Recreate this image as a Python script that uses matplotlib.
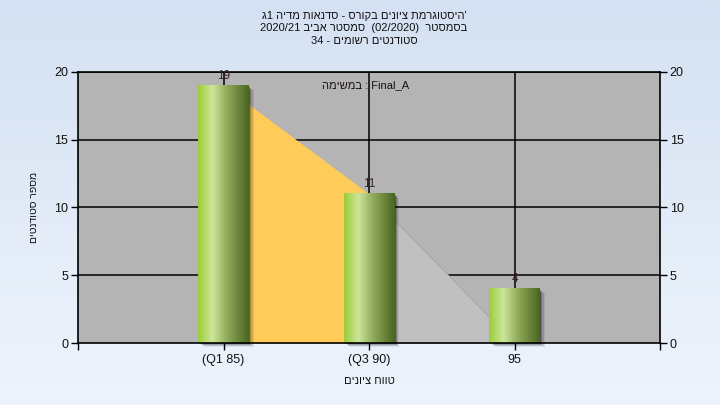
import numpy as np
import matplotlib
matplotlib.use("Agg")
import matplotlib.pyplot as plt
from matplotlib.colors import LinearSegmentedColormap
from matplotlib.patches import Rectangle
import matplotlib.transforms as mtransforms

plt.rcParams['font.family'] = ['Liberation Sans', 'DejaVu Sans']

# ---- data ----
categories = ["(Q1 85)", "(Q3 90)", "95"]
counts = [19, 11, 4]
area_values = [19, 11, 0]
yticks = [0, 5, 10, 15, 20]

title_lines = ["'היסטוגרמת ציונים בקורס - סדנאות מדיה 1ג",
               "בסמסטר  (02/2020)  סמסטר אביב 2020/21",
               "סטודנטים רשומים - 34"]
xlabel = "טווח ציונים"
ylabel = "מספר סטודנטים"
inner_title = "Final_A : במשימה"

MIRROR = {'(': ')', ')': '('}


def is_ltr(c):
    return c.isascii() and (c.isalnum() or c == '_')


def visual(s):
    """Very small bidi: RTL base paragraph -> visual order (left to right)."""
    runs = []
    i = 0
    n = len(s)
    while i < n:
        c = s[i]
        if is_ltr(c):
            j = i
            while j < n and (is_ltr(s[j]) or (s[j] in '/._' and j + 1 < n and is_ltr(s[j + 1]))):
                j += 1
            runs.append(('L', s[i:j]))
            i = j
        else:
            j = i
            while j < n and not is_ltr(s[j]):
                j += 1
            runs.append(('R', s[i:j]))
            i = j
    out = []
    for kind, txt in reversed(runs):
        if kind == 'L':
            out.append(txt)
        else:
            out.append(''.join(MIRROR.get(ch, ch) for ch in reversed(txt)))
    return ''.join(out)


W, H = 720, 405
fig = plt.figure(figsize=(7.2, 4.05), dpi=100)

# background gradient
bg = fig.add_axes([0, 0, 1, 1], zorder=-10)
grad = np.linspace(0, 1, 256).reshape(-1, 1)
bgcmap = LinearSegmentedColormap.from_list('bg', ['#d4e1f2', '#eef4fc'])
bg.imshow(grad, aspect='auto', cmap=bgcmap, extent=[0, 1, 0, 1], origin='upper')
bg.axis('off')

L, R, T, B = 78, 660, 72, 343
ax = fig.add_axes([L / W, 1 - B / H, (R - L) / W, (B - T) / H])
ax.set_facecolor('#b4b4b4')
x = np.arange(len(categories))

# grid
for yv in yticks[1:]:
    ax.axhline(yv, color='black', lw=1.1, zorder=1)
for xv in x:
    ax.axvline(xv, color='black', lw=1.1, zorder=1)

# area series
ax.fill_between(x[0:2], area_values[0:2], 0, color='#ffcc5a', lw=0, zorder=2)
ax.fill_between(x[1:3], area_values[1:3], 0, color='#c0c0c0', lw=0, zorder=2)
ax.plot(x[1:3], area_values[1:3], color='#a9a9a9', lw=0.8, zorder=2)

# bars
bw = 0.345
barcmap = LinearSegmentedColormap.from_list(
    'bar', [(0, '#9acd38'), (0.28, '#cde59a'), (0.55, '#94ae5e'), (1.0, '#4a651f')])
hgrad = np.linspace(0, 1, 256).reshape(1, -1)
for xi, v in zip(x, counts):
    # shadow
    for k, a in enumerate([0.30, 0.20, 0.12, 0.07]):
        off = mtransforms.offset_copy(ax.transData, fig=fig, x=1.5 + k * 1.3, y=-(1 + k * 1.0),
                                      units='dots')
        ax.add_patch(Rectangle((xi - bw / 2, 0), bw, v, transform=off, color='black',
                               alpha=a, lw=0, zorder=3, clip_on=False))
    ax.imshow(hgrad, aspect='auto', cmap=barcmap,
              extent=[xi - bw / 2, xi + bw / 2, 0, v], zorder=4, interpolation='bilinear')
    ax.annotate(str(v), (xi, v), xytext=(0, 2.5), textcoords='offset points',
                ha='center', va='bottom', fontsize=8.5, color='#3a2222', zorder=6)
ax.set_xlim(-1, 3)
ax.set_ylim(0, 20)

# ticks
ax.set_yticks(yticks)
ax.set_xticks([-1] + list(x) + [3])
ax.set_xticklabels([''] + categories + [''])
ax.tick_params(axis='both', labelsize=9, length=5, width=1, color='black', labelcolor='#111111',
               direction='out', pad=2)
ax.tick_params(axis='x', pad=3)
ax.tick_params(axis='y', right=True, labelright=True)
for sp in ax.spines.values():
    sp.set_color('black')
    sp.set_linewidth(1.2)
    sp.set_zorder(5)

fig.text(366 / W, 1 - 85 / H, visual(inner_title), ha='center', va='center',
         fontsize=8, color='#1a1010', zorder=7)

fig.text(369 / W, 1 - 381 / H, visual(xlabel), ha='center', va='center',
         fontsize=8, color='#111111')
fig.text(34 / W, 1 - 207 / H, visual(ylabel), ha='center', va='center', rotation=90,
         fontsize=7.5, color='#111111')

for i, line in enumerate(title_lines):
    fig.text(364 / W, 1 - (16 + i * 12.3) / H, visual(line), ha='center', va='center',
             fontsize=8, color='#111111')

fig.savefig('out.png', dpi=100)
